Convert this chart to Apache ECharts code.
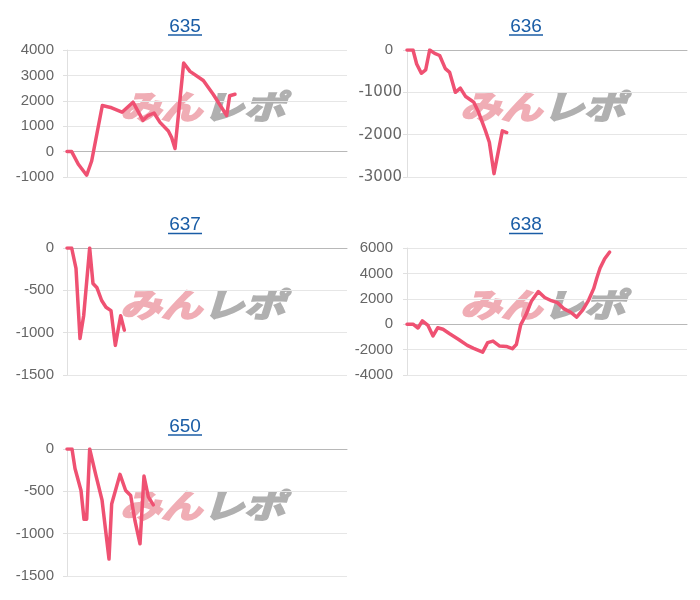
<!DOCTYPE html>
<html><head><meta charset="utf-8">
<script src="https://cdn.jsdelivr.net/npm/echarts@6/dist/echarts.min.js"></script>
<style>html,body{margin:0;padding:0;background:#fff}#c{width:700px;height:600px}</style>
</head><body><div id="c"></div>
<script>
// Machine numbers (panel titles)
const machines = ['635', '636', '637', '638', '650'];

// x: games played, y: coin difference
const games635 = [0,140,340,590,740,1060,1340,1650,1980,2280,2430,2610,2790,3040,3140,3240,3500,3690,4090,4390,4790,4880,5040];
const diff635  = [0,0,-500,-930,-370,1815,1725,1550,1945,1230,1420,1520,1150,810,550,120,3490,3160,2800,2250,1420,2200,2260];

const games636 = [0,180,290,430,560,680,830,980,1150,1280,1450,1600,1760,1910,2000,2130,2350,2470,2610,2860,2990];
const diff636  = [0,0,-330,-550,-470,0,-80,-130,-440,-530,-1000,-900,-1100,-1180,-1230,-1440,-1900,-2180,-2920,-1910,-1950];

const games637 = [0,140,270,390,500,680,780,900,1040,1170,1320,1450,1610,1720];
const diff637  = [0,0,-240,-1070,-800,0,-420,-470,-620,-700,-740,-1150,-800,-970];

const games638 = [0,180,330,460,630,780,920,1080,1280,1550,1810,2000,2270,2420,2580,2780,2980,3160,3280,3410,3560,3730,3940,4130,4330,4510,4700,4910,5090,5280,5450,5600,5690,5790,5930,6080];
const diff638  = [0,0,-300,260,-100,-920,-280,-400,-750,-1200,-1670,-1900,-2200,-1450,-1330,-1720,-1750,-1930,-1600,-50,700,1800,2570,2100,1850,1700,1230,940,550,1150,1900,2800,3600,4400,5150,5680];

const games650 = [0,150,240,420,510,590,680,860,1050,1260,1340,1590,1760,1910,2040,2190,2310,2440,2590];
const diff650  = [0,0,-230,-490,-830,-830,0,-300,-600,-1300,-650,-300,-490,-550,-850,-1120,-320,-565,-660];

// y-axis scales (min, max, interval)
const yMin = [-1000, -3000, -1500, -4000, -1500];
const yMax = [4000, 0, 0, 6000, 0];
const yStep = [1000, 1000, 500, 2000, 500];
const xMaxGames = 8400;

const gamesAll = [games635, games636, games637, games638, games650];
const diffAll = [diff635, diff636, diff637, diff638, diff650];

// layout
const gridPos = [
  {left: 67, top: 50}, {left: 407, top: 50},
  {left: 67, top: 248}, {left: 407, top: 248},
  {left: 67, top: 449}
];
const titlePos = [[185, 26.5], [526, 26.5], [185, 225], [526, 225], [185, 426.5]];
const GW = 280, GH = 127;
const LINE = '#ef5172';
const FONT = '"Liberation Sans", Arial, sans-serif';

const grids = [], xAxes = [], yAxes = [], series = [], graphics = [];
for (let i = 0; i < 5; i++) {
  const g = gridPos[i];
  grids.push({left: g.left, top: g.top, width: GW, height: GH, containLabel: false});
  xAxes.push({
    type: 'value', gridIndex: i, min: 0, max: xMaxGames,
    axisLabel: {show: false}, axisTick: {show: false}, splitLine: {show: false},
    axisLine: {show: true, onZero: true, lineStyle: {color: '#b8b8b8', width: 1}}
  });
  const is636 = i === 1;
  yAxes.push({
    type: 'value', gridIndex: i, min: yMin[i], max: yMax[i], interval: yStep[i],
    axisLine: {show: true, onZero: false, lineStyle: {color: '#e0e0e0'}},
    axisTick: {show: true, length: 4, lineStyle: {color: '#e0e0e0'}},
    splitLine: {show: true, lineStyle: {color: '#e6e6e6', width: 1}},
    axisLabel: {
      color: '#666', fontSize: 15,
      fontFamily: is636 ? '"DejaVu Sans", sans-serif' : FONT,
      margin: is636 ? 5 : (i === 3 ? 14 : 13),
      formatter: is636 ? (v => v === 0 ? '{z|0}' : String(v)) : (v => String(v)),
      rich: {z: {color: '#666', fontSize: 15, fontFamily: FONT, padding: [0, 9, 0, 0]}}
    }
  });
  const data = gamesAll[i].map((x, k) => [x, diffAll[i][k]]);
  series.push({
    type: 'line', xAxisIndex: i, yAxisIndex: i, data: data,
    showSymbol: false, symbol: 'none', smooth: false, z: 5,
    lineStyle: {color: LINE, width: 3.5, join: 'round', cap: 'round'},
    animation: false
  });

  // title (underlined link-style)
  const [tx, ty] = titlePos[i];
  graphics.push({
    type: 'text', x: tx, y: ty, z: 10,
    style: {text: machines[i], fill: '#1a5da6', font: '19px ' + FONT, textAlign: 'center', textVerticalAlign: 'middle'}
  });
  graphics.push({
    type: 'line', z: 10,
    shape: {x1: tx - 17, y1: ty + 8.5, x2: tx + 17, y2: ty + 8.5},
    style: {stroke: '#1a5da6', lineWidth: 1.4}
  });

  // watermark logo
  const lx = g.left + 53, ly = g.top + 57;
  const logoFont = 'italic bold 41px "Noto Sans CJK JP"';
  graphics.push({
    type: 'group', x: lx, y: ly, z: 1, scaleY: 0.8,
    children: [
      {type: 'text', x: 0, y: 0, style: {text: 'みん', fill: '#f0adb5', stroke: '#f0adb5', lineWidth: 2.5, font: logoFont, textVerticalAlign: 'middle'}},
      {type: 'text', x: 83, y: 0, style: {text: 'レポ', fill: '#b0b0b0', stroke: '#b0b0b0', lineWidth: 2.5, font: logoFont, textVerticalAlign: 'middle'}}
    ]
  });
}

const chart = echarts.init(document.getElementById('c'), null, {renderer: 'canvas'});
chart.setOption({
  animation: false,
  backgroundColor: '#fff',
  grid: grids, xAxis: xAxes, yAxis: yAxes, series: series,
  graphic: graphics
});
</script></body></html>
